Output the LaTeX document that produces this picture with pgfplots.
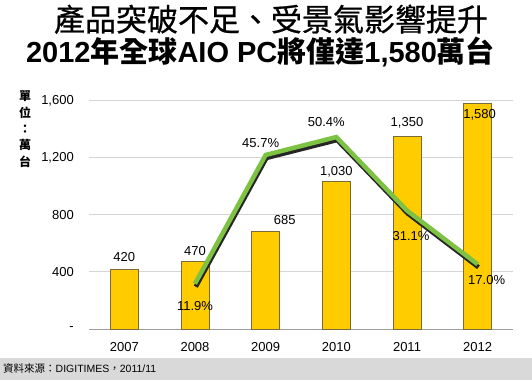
\documentclass[border=0pt]{standalone}
\usepackage{fontspec}
\setmainfont{Liberation Sans}
\newfontfamily\cjk{Noto Sans CJK TC}
\newfontfamily\cjkmed[FakeBold=0.7]{Noto Sans CJK TC}
\usepackage{pgfplots}
\pgfplotsset{compat=1.18}
\usepackage{pgfplotstable}
\definecolor{baryellow}{HTML}{FFCC00}
\definecolor{barborder}{HTML}{786A3A}
\definecolor{linegreen}{HTML}{7DC242}
\definecolor{gridgray}{HTML}{D4D4D4}
\definecolor{bandgray}{HTML}{D9D9D9}

\pgfplotstableread{
x v dx dy
0 420 0 12
1 470 0 11
2 685 19 11
3 1030 0 10
4 1350 0 13
5 1580 2 -11
}\bars
\pgfplotstableread{
x p dx dy
1 11.9 0 -22
2 45.7 -5 12
3 50.4 -10 15
4 31.1 4 -25
5 17.0 9 -16
}\growth

\begin{document}
\begin{tikzpicture}
\path[use as bounding box] (0pt,0pt) rectangle (532pt,380pt);
\fill[bandgray] (0pt,0pt) rectangle (532pt,22pt);
\node[anchor=west, inner sep=0, font=\fontsize{10.5}{12}\selectfont] at (3pt,12pt) {{\cjk 資料來源：}DIGITIMES{\cjk ，}2011/11};
\node[anchor=base, inner sep=0, font=\cjkmed\fontsize{31}{31}\selectfont] at (271pt,349pt) {產品突破不足、受景氣影響提升};
\node[anchor=base, inner sep=0, font=\bfseries\fontsize{29}{29}\selectfont] at (260.5pt,317pt) {2012{\cjk 年全球}AIO PC{\cjk 將僅達}1,580{\cjk 萬台}};
\node[anchor=north, inner sep=0, align=center, font=\cjk\bfseries\fontsize{12}{16.3}\selectfont] at (25pt,289pt) {單\\位\\：\\萬\\台};

\begin{axis}[
  at={(89pt,51pt)}, anchor=south west, scale only axis,
  width=424pt, height=228.5pt,
  xmin=-0.5, xmax=5.5, ymin=0, ymax=1600,
  ybar, bar width=28pt, bar shift=0pt,
  axis line style={draw=none},
  major tick length=0pt,
  xtick={0,1,2,3,4,5},
  xticklabels={2007,2008,2009,2010,2011,2012},
  xticklabel style={anchor=base, yshift=-22pt, font=\fontsize{13}{13}\selectfont},
  ytick={400,800,1200,1600},
  yticklabels={400,800,{1,200},{1,600}},
  extra y ticks={0},
  extra y tick labels={-\hspace{7pt}},
  extra y tick style={grid style={color=gray!75, line width=0.8pt}},
  yticklabel style={anchor=east, inner sep=0pt, xshift=-15pt, font=\fontsize{13}{13}\selectfont},
  ymajorgrids, grid style={color=gridgray, line width=0.8pt},
  /pgf/number format/assume math mode=true,
  clip=false,
]
\addplot[fill=baryellow, draw=barborder, line width=0.9pt,
  nodes near coords={\pgfmathprintnumber[1000 sep={,}]{\pgfplotspointmeta}},
  visualization depends on={\thisrow{dx}\as\mydx},
  visualization depends on={\thisrow{dy}\as\mydy},
  every node near coord/.append style={anchor=center, inner sep=0pt, xshift=\mydx pt, yshift=\mydy pt, font=\fontsize{13}{13}\selectfont, black},
] table[x=x, y=v] {\bars};
\end{axis}

\begin{axis}[
  at={(89pt,51pt)}, anchor=south west, scale only axis,
  width=424pt, height=228.5pt,
  xmin=-0.5, xmax=5.5, ymin=0, ymax=60,
  hide axis, clip=false,
  /pgf/number format/assume math mode=true,
]
\addplot[draw=black!85, line width=4.5pt, line join=miter, no markers, xshift=0.8pt, yshift=-3pt] table[x=x, y=p] {\growth};
\addplot[draw=linegreen, line width=4.5pt, line join=miter, no markers,
  nodes near coords={\pgfmathprintnumber[fixed, fixed zerofill, precision=1]{\pgfplotspointmeta}\%},
  visualization depends on={\thisrow{dx}\as\mydx},
  visualization depends on={\thisrow{dy}\as\mydy},
  every node near coord/.append style={anchor=center, inner sep=0pt, xshift=\mydx pt, yshift=\mydy pt, font=\fontsize{13}{13}\selectfont, black},
] table[x=x, y=p] {\growth};
\end{axis}
\end{tikzpicture}
\end{document}
